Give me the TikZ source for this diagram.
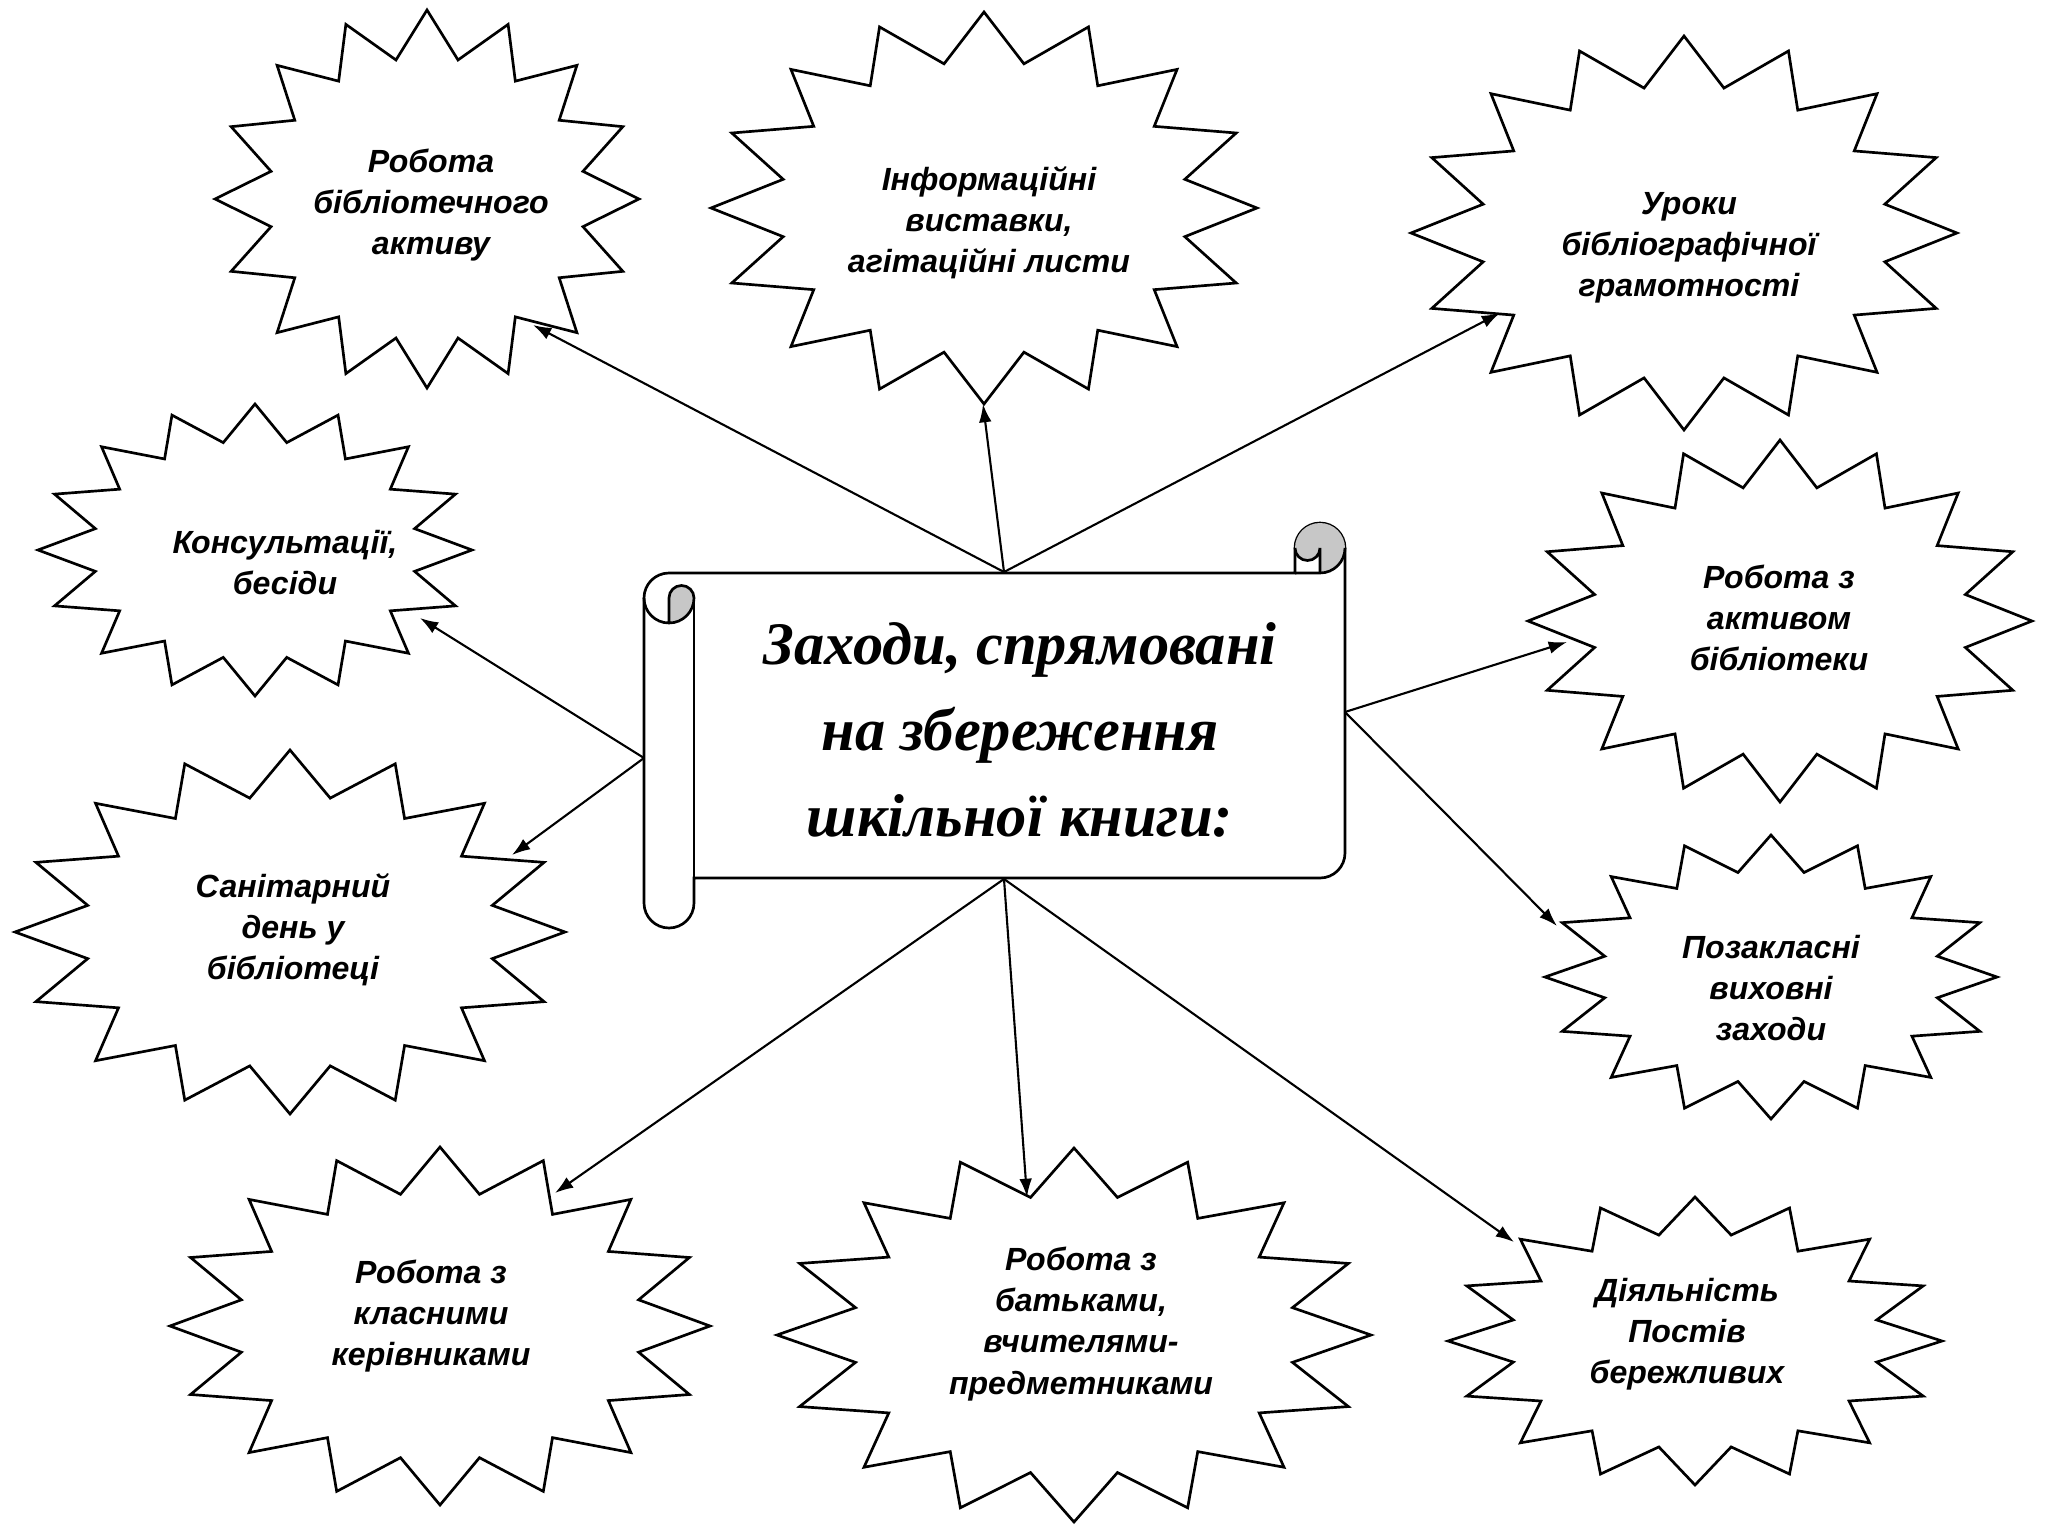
\documentclass[tikz,border=0pt]{standalone}
\usepackage{fontspec}
\setmainfont{Liberation Sans}
\newfontfamily\titlefont{Liberation Serif}
\usetikzlibrary{arrows.meta}
\newcommand\starburst[4]{\draw[starline] plot[samples at={0,1,...,31}, variable=\idx] ({#1+(1-0.25*mod(\idx,2))*#3*cos(90+11.25*\idx)},{#2-(1-0.25*mod(\idx,2))*#4*sin(90+11.25*\idx)}) -- cycle;}
\begin{document}
\begin{tikzpicture}[x=0.0125cm,y=-0.0125cm,
  starline/.style={line width=0.95pt, line join=miter, fill=white},
  lbl/.style={align=center, inner sep=0pt, font=\bfseries\itshape\fontsize{11.4}{14.6}\selectfont},
  conn/.style={line width=0.75pt, -{Latex[length=6.5pt,width=4.5pt]}},
  scrollline/.style={line width=0.95pt},
  curlgray/.style={fill=black!22},
  ttl/.style={align=center, inner sep=0pt, font=\titlefont\bfseries\itshape\fontsize{21.5}{30.6}\selectfont}]
\useasboundingbox[fill=white] (0,0) rectangle (2048,1536);

% starbursts
\starburst{427}{199}{212}{189}
\starburst{984}{208}{273}{196}
\starburst{1684}{233}{273}{197}
\starburst{255}{550}{217}{146}
\starburst{290}{932}{275}{182}
\starburst{1780}{621}{252}{181}
\starburst{1771}{977}{226}{142}
\starburst{440}{1326}{270}{179}
\starburst{1074}{1335}{297}{187}
\starburst{1695}{1341}{247}{144}

\node[lbl] (s1) at (431,205) {Робота\\бібліотечного\\активу};
\node[lbl] (s2) at (989,223) {Інформаційні\\виставки,\\агітаційні листи};
\node[lbl] (s3) at (1689,248) {Уроки\\бібліографічної\\грамотності};
\node[lbl] (s4) at (285,563) {Консультації,\\бесіди};
\node[lbl] (s5) at (293,930) {Санітарний\\день у\\бібліотеці};
\node[lbl] (s6) at (1779,618) {Робота з\\активом\\бібліотеки};
\node[lbl] (s7) at (1771,988) {Позакласні\\виховні\\заходи};
\node[lbl] (s8) at (431,1316) {Робота з\\класними\\керівниками};
\node[lbl] (s9) at (1081,1324) {Робота з\\батьками,\\вчителями-\\предметниками};
\node[lbl] (s10) at (1687,1334) {Діяльність\\Постів\\бережливих};

% scroll (horizontal scroll shape)
\begin{scope}[shift={(644,523)}]
  \draw[scrollline, fill=white] (0,75) arc[start angle=180, delta angle=90, radius=25]
    -- (651,50) -- (651,25) arc[start angle=180, delta angle=180, radius=25]
    -- (701,330) arc[start angle=0, delta angle=90, radius=25]
    -- (50,355) -- (50,380) arc[start angle=0, delta angle=180, radius=25] -- cycle;
  \fill[curlgray] (676,50) arc[start angle=90, delta angle=-270, radius=25]
    arc[start angle=180, delta angle=-180, radius=12.5] -- cycle;
  \fill[curlgray] (25,100) arc[start angle=90, delta angle=-90, radius=25]
    arc[start angle=0, delta angle=-180, radius=12.5] -- cycle;
  \draw[scrollline] (651,50) -- (676,50) arc[start angle=90, delta angle=-90, radius=25];
  \draw[scrollline] (676,50) -- (676,25) arc[start angle=0, delta angle=180, radius=12.5];
  \draw[scrollline] (25,100) -- (25,75) arc[start angle=180, delta angle=180, radius=12.5]
    arc[start angle=0, delta angle=180, radius=25];
  \draw[scrollline] (50,75) -- (50,355);
\end{scope}
\node[ttl] (title) at (1020,730) {Заходи, спрямовані\\на збереження\\шкільної книги:};

% connector ends
\coordinate (top) at (1004,572);
\coordinate (left) at (644,758);
\coordinate (right) at (1345,712);
\coordinate (bot) at (1004,879);
\coordinate (t1) at (533,325);
\coordinate (t2) at (983,404);
\coordinate (t3) at (1500,313);
\coordinate (t4) at (420,618);
\coordinate (t5) at (512,855);
\coordinate (t6) at (1567,642);
\coordinate (t7) at (1557,926);
\coordinate (t8) at (555,1193);
\coordinate (t9) at (1027,1197);
\coordinate (t10) at (1514,1242);

\draw[conn] (top) -- (t1);
\draw[conn] (top) -- (t2);
\draw[conn] (top) -- (t3);
\draw[conn] (left) -- (t4);
\draw[conn] (left) -- (t5);
\draw[conn] (right) -- (t6);
\draw[conn] (right) -- (t7);
\draw[conn] (bot) -- (t8);
\draw[conn] (bot) -- (t9);
\draw[conn] (bot) -- (t10);
\end{tikzpicture}
\end{document}
